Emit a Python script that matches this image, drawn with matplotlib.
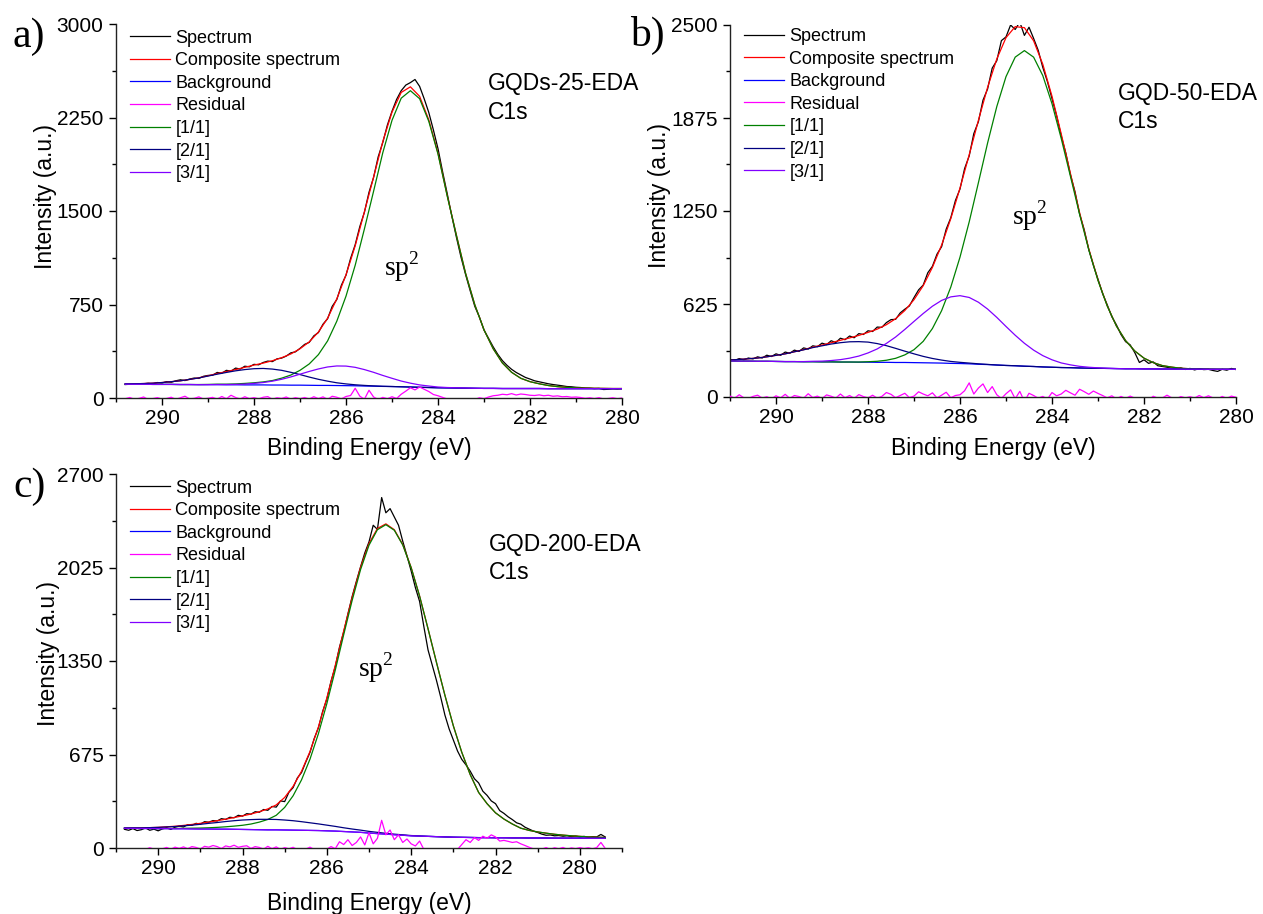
import numpy as np
import matplotlib
matplotlib.use('Agg')
import matplotlib.pyplot as plt
from matplotlib.ticker import MultipleLocator

plt.rcParams['font.family'] = 'Liberation Sans'
plt.rcParams['mathtext.fontset'] = 'custom'
plt.rcParams['mathtext.rm'] = 'Liberation Serif'

# ---------------- a) GQDs-25-EDA ----------------
# fit curves, 0.2 eV step from 290.8 eV down to 280.0 eV
a_fit_start = 290.8
a_comp = [113, 114, 116, 119, 124, 131, 138, 149, 162, 178,
          196, 212, 228, 246, 264, 280, 299, 323, 353, 395,
          450, 529, 640, 795, 988, 1221, 1493, 1772, 2057, 2293,
          2451, 2496, 2420, 2231, 1963, 1624, 1307, 1000, 748, 547,
          395, 281, 206, 158, 131, 114, 100, 91, 85, 81,
          79, 78, 77, 76, 76]
a_bg = [111, 110, 110, 109, 109, 109, 108, 108, 107, 107,
        107, 106, 106, 105, 105, 105, 104, 104, 103, 103,
        102, 101, 101, 100, 99, 98, 96, 95, 93, 92,
        90, 88, 86, 84, 82, 81, 80, 79, 78, 77,
        77, 76, 76, 76, 76, 76, 75, 75, 75, 75,
        75, 75, 75, 75, 75]
a_p1 = [111, 110, 110, 109, 109, 109, 108, 108, 108, 109,
        111, 111, 113, 117, 122, 129, 140, 159, 184, 222,
        273, 348, 458, 616, 817, 1065, 1356, 1659, 1968, 2227,
        2405, 2465, 2401, 2219, 1957, 1621, 1305, 999, 748, 547,
        395, 281, 206, 158, 131, 114, 100, 91, 85, 81,
        79, 78, 77, 76, 76]
a_p2 = [113, 114, 116, 119, 124, 131, 138, 149, 161, 176,
        191, 205, 218, 228, 235, 237, 232, 222, 206, 188,
        168, 150, 135, 122, 113, 106, 101, 97, 94, 92,
        90, 88, 86, 84, 82, 81, 80, 79, 78, 77,
        77, 76, 76, 76, 76, 76, 75, 75, 75, 75,
        75, 75, 75, 75, 75]
a_p3 = [111, 110, 110, 109, 109, 109, 108, 108, 107, 107,
        108, 108, 109, 111, 117, 124, 135, 150, 169, 191,
        213, 233, 249, 257, 256, 246, 228, 206, 181, 158,
        136, 119, 105, 96, 88, 84, 82, 80, 78, 77,
        77, 76, 76, 76, 76, 76, 75, 75, 75, 75,
        75, 75, 75, 75, 75]
# measured spectrum and residual, 0.1 eV step from 290.8 eV
a_spec_start = 290.8
a_spec = [108, 110, 112, 110, 114, 118, 113, 124, 120,
          131, 126, 138, 146, 140, 152, 160, 157, 174, 181,
          183, 205, 199, 222, 215, 240, 232, 255, 250, 270,
          266, 285, 296, 292, 314, 320, 336, 362, 370, 398,
          430, 446, 498, 525, 592, 636, 735, 790, 905, 985,
          1120, 1230, 1375, 1490, 1650, 1770, 1935, 2050, 2190, 2300,
          2395, 2465, 2510, 2530, 2555, 2500, 2400, 2290, 2150, 2000,
          1815, 1640, 1460, 1290, 1130, 990, 860, 735, 650, 545,
          478, 410, 350, 300, 262, 230, 205, 185, 165, 152,
          138, 130, 122, 114, 108, 103, 98, 92, 90, 86,
          84, 80, 79, 75, 77, 68, 70, 74, 72, 75]
a_res = [-6, 4, -10, -3, 8, -12, -5, 3, -9,
         -4, 6, -11, 2, 14, -7, -3, 9, -8, -2,
         5, -9, 12, -6, 22, 4, -8, 10, -5, 3,
         -7, 6, 11, -10, 2, -4, 8, -9, 3, -6,
         4, -8, 10, -5, 9, -11, 14, 6, -7, 12,
         20, 78, 15, -10, 62, 8, -12, 5, -6, 10,
         -4, 30, 55, 82, 65, 88, 70, 52, 28, 18,
         5, -8, -15, -22, -18, -10, -14, -12, 2, -6,
         8, 18, 22, 30, 26, 35, 24, 32, 28, 22,
         20, 25, 18, 22, 14, 17, 10, 12, 6, 8,
         4, -3, 2, -5, 3, -8, -4, 2, -6, 0]

# ---------------- b) GQD-50-EDA ----------------
b_fit_start = 291.0
b_comp = [249, 252, 257, 262, 270, 280, 290, 304, 318, 335,
          349, 365, 381, 397, 414, 434, 456, 486, 526, 581,
          654, 748, 871, 1021, 1199, 1404, 1628, 1859, 2081, 2272,
          2415, 2489, 2482, 2394, 2236, 2021, 1769, 1503, 1239, 995,
          786, 613, 477, 379, 309, 261, 231, 211, 201, 193,
          190, 188, 187, 186, 186, 186]
b_bg = [242, 241, 241, 240, 240, 239, 238, 238, 237, 237,
        236, 236, 235, 235, 234, 234, 233, 233, 232, 232,
        231, 230, 229, 228, 226, 225, 223, 220, 218, 215,
        212, 210, 207, 205, 202, 200, 198, 197, 195, 194,
        193, 192, 191, 190, 190, 189, 189, 188, 188, 187,
        187, 187, 186, 186, 186, 186]
b_p1 = [242, 241, 241, 240, 240, 239, 238, 238, 237, 237,
        236, 236, 235, 235, 235, 237, 240, 247, 260, 283,
        318, 374, 460, 580, 739, 940, 1177, 1440, 1707, 1952,
        2153, 2284, 2328, 2284, 2160, 1971, 1738, 1484, 1228, 989,
        783, 612, 477, 379, 309, 261, 231, 211, 201, 193,
        190, 188, 187, 186, 186, 186]
b_p2 = [249, 252, 257, 262, 270, 280, 290, 304, 317, 332,
        344, 356, 365, 371, 372, 369, 359, 345, 327, 308,
        290, 273, 259, 248, 239, 233, 228, 223, 219, 215,
        212, 210, 207, 205, 202, 200, 198, 197, 195, 194,
        193, 192, 191, 190, 190, 189, 189, 188, 188, 187,
        187, 187, 186, 186, 186, 186]
b_p3 = [242, 241, 241, 240, 240, 239, 238, 238, 238, 240,
        241, 245, 251, 261, 275, 296, 323, 360, 403, 454,
        508, 561, 610, 649, 673, 681, 669, 637, 591, 535,
        474, 415, 361, 315, 278, 250, 229, 216, 206, 200,
        196, 193, 191, 190, 190, 189, 189, 188, 188, 187,
        187, 187, 186, 186, 186, 186]
b_spec_start = 291.0
b_spec = [252, 246, 258, 250, 262, 256, 270, 262, 281, 272,
          290, 280, 302, 294, 315, 306, 330, 322, 344, 338,
          362, 352, 378, 366, 395, 385, 410, 398, 426, 420,
          445, 440, 470, 468, 500, 520, 522, 565, 590, 612,
          668, 720, 752, 835, 878, 960, 1010, 1128, 1205, 1320,
          1398, 1535, 1620, 1770, 1850, 1995, 2070, 2210, 2260, 2395,
          2420, 2500, 2470, 2520, 2430, 2485, 2410, 2330, 2215, 2120,
          2005, 1890, 1755, 1640, 1495, 1380, 1230, 1125, 990, 885,
          792, 695, 620, 540, 485, 420, 372, 350, 298, 232,
          250, 226, 236, 210, 205, 200, 194, 190, 196, 185,
          192, 182, 190, 184, 186, 178, 172, 186, 180, 192,
          184]
b_res = [6, -8, 15, -5, -10, 4, 12, -7, 2, -12,
         8, -6, 18, -9, 10, 3, -8, 22, -4, 6,
         -10, 14, 5, -7, 20, -5, 10, -9, 16, 3,
         -6, 12, -8, 4, 30, 18, -5, 10, 25, -4,
         6, 35, 20, 8, 28, -6, 12, 32, -5, 10,
         15, 42, 95, 20, 60, 88, 30, 70, 15, -10,
         22, 48, -12, 38, -30, 25, 10, -8, 4, -14,
         30, 8, 20, 45, 28, 12, 52, 36, 18, 40,
         24, 10, -6, 8, -12, 4, -10, 6, -8, -40,
         -10, -20, 5, -8, -6, 12, -5, -12, 3, -6,
         2, -7, 10, -5, 8, -6, -14, 4, -9, 6,
         -2]

# ---------------- c) GQD-200-EDA ----------------
c_fit_start = 290.8
c_comp = [144, 145, 145, 147, 149, 153, 157, 163, 170, 178,
          187, 197, 208, 220, 232, 245, 262, 282, 311, 365,
          445, 554, 696, 873, 1083, 1318, 1567, 1808, 2026, 2198,
          2307, 2340, 2298, 2191, 2025, 1819, 1583, 1340, 1103, 882,
          691, 530, 401, 320, 254, 209, 173, 143, 127, 116,
          107, 99, 93, 88, 84, 80, 78, 76]
c_bg = [142, 142, 141, 141, 140, 140, 139, 139, 138, 137,
        137, 136, 136, 135, 134, 133, 132, 131, 131, 130,
        129, 128, 127, 126, 124, 122, 119, 116, 113, 108,
        104, 100, 96, 92, 88, 86, 84, 82, 80, 78,
        77, 76, 75, 75, 74, 74, 73, 73, 72, 72,
        72, 71, 71, 71, 71, 70, 70, 70]
c_p1 = [142, 142, 141, 141, 140, 141, 141, 142, 143, 144,
        146, 149, 153, 158, 164, 173, 187, 206, 236, 293,
        377, 492, 641, 825, 1042, 1284, 1540, 1787, 2010, 2186,
        2298, 2334, 2294, 2188, 2023, 1818, 1583, 1340, 1103, 882,
        691, 530, 401, 320, 254, 209, 173, 143, 127, 116,
        107, 99, 93, 88, 84, 80, 78, 76]
c_p2 = [144, 145, 145, 147, 149, 152, 155, 160, 165, 171,
        178, 184, 191, 197, 202, 205, 207, 207, 206, 202,
        197, 190, 182, 174, 165, 156, 146, 137, 129, 120,
        113, 106, 100, 95, 90, 87, 84, 82, 80, 78,
        77, 76, 75, 75, 74, 74, 73, 73, 72, 72,
        72, 71, 71, 71, 71, 70, 70, 70]
c_p3 = c_bg  # [3/1] lies on the background in this fit
c_spec_start = 290.8
c_spec = [135, 128, 140, 126, 132, 145, 128, 136, 124,
          138, 146, 134, 150, 158, 152, 168, 164, 178, 172,
          190, 186, 198, 195, 212, 206, 222, 218, 236, 230,
          248, 244, 262, 258, 278, 272, 300, 295, 340, 335,
          402, 436, 505, 545, 620, 690, 790, 868, 985, 1075,
          1205, 1310, 1450, 1560, 1690, 1815, 1925, 2030, 2130, 2210,
          2330, 2300, 2530, 2420, 2450, 2390, 2330, 2215, 2110, 2000,
          1880, 1780, 1600, 1430, 1320, 1210, 1090, 960, 860, 780,
          700, 640, 600, 555, 500, 470, 410, 380, 340, 320,
          270, 250, 225, 205, 182, 172, 150, 136, 122, 112,
          100, 92, 94, 88, 90, 85, 88, 82, 86, 80,
          84, 78, 82, 80, 98, 80]
c_res = [-9, -14, -6, -12, -5, -10, 2, -8, -4,
         -6, 4, -9, 6, -3, 8, -5, 10, 4, -7,
         12, 6, 18, 10, -4, 15, 8, 20, 5, 12,
         16, -3, 10, 4, -8, 12, -5, 8, -10, 3,
         -6, 5, -12, -4, -8, 6, -10, -5, -14, -8,
         10, -5, 45, 25, 60, 18, 40, 80, 22, 110,
         30, 70, 200, 95, 130, 60, 95, 40, 65, 30,
         15, 50, -10, -25, -40, -20, -30, -45, -20, -8,
         -10, 25, 60, 40, 75, 55, 85, 70, 95, 80,
         50, 55, 48, 40, 45, 30, 18, 5, -6, -4,
         -8, 3, -10, 2, -6, 4, -9, 1, -5, 3,
         -4, 2, -6, 3, 40, -2]

labels = ['Spectrum', 'Composite spectrum', 'Background', 'Residual',
          '[1/1]', '[2/1]', '[3/1]']
colors = ['black', '#FF0000', '#0000FF', '#FF00FF', '#008000', '#000080', '#8000FF']


def energies(start, step, n):
    return start - step * np.arange(n)


def panel(ax, fit_start, comp, bg, p1, p2, p3, spec_start, spec, res,
          xlim, ymax, ystep, name, sp_xy, name_xy, leg_anchor, xlab_xy, ylab_xy):
    ef = energies(fit_start, 0.2, len(comp))
    es = energies(spec_start, 0.1, len(spec))
    curves = [(es, spec), (ef, comp), (ef, bg), (es, res), (ef, p1), (ef, p2), (ef, p3)]
    for (ex, ey), lab, col in zip(curves, labels, colors):
        z = 3 if lab == 'Residual' else 2
        ax.plot(ex, ey, color=col, lw=0.9, label=lab, zorder=z)
    ax.set_xlim(*xlim)
    ax.set_ylim(0, ymax)
    ax.xaxis.set_major_locator(MultipleLocator(2))
    ax.xaxis.set_minor_locator(MultipleLocator(1))
    ax.yaxis.set_major_locator(MultipleLocator(ystep))
    ax.yaxis.set_minor_locator(MultipleLocator(ystep / 2))
    for s in ['top', 'right']:
        ax.spines[s].set_visible(False)
    for s in ['left', 'bottom']:
        ax.spines[s].set_linewidth(1.0)
        ax.spines[s].set_color('#222222')
    ax.tick_params(which='major', direction='out', length=5, width=1.0, labelsize=15)
    ax.tick_params(which='minor', direction='out', length=3, width=1.0)
    ax.tick_params(axis='x', pad=3)
    ax.tick_params(axis='y', pad=4)
    ax.set_xlabel('Binding Energy (eV)', fontsize=16.5)
    ax.set_ylabel('Intensity (a.u.)', fontsize=16.5)
    ax.xaxis.set_label_coords(*xlab_xy)
    ax.yaxis.set_label_coords(*ylab_xy)
    ax.legend(loc='upper left', bbox_to_anchor=leg_anchor, frameon=False, fontsize=13,
              handlelength=2.2, handletextpad=0.3, labelspacing=0.31,
              borderpad=0, borderaxespad=0)
    ax.text(name_xy[0], name_xy[1], name, transform=ax.transAxes, fontsize=16.5, va='baseline')
    ax.text(name_xy[0], name_xy[2], 'C1s', transform=ax.transAxes, fontsize=16.5, va='baseline')
    ax.text(sp_xy[0], sp_xy[1], r'sp$^{\mathrm{2}}$', family='Liberation Serif',
            fontsize=20, va='baseline')


W, H = 1263, 914
fig = plt.figure(figsize=(W / 100, H / 100), dpi=100)
ax_a = fig.add_axes([116 / W, 1 - 398 / H, 506 / W, 374 / H])
ax_b = fig.add_axes([730 / W, 1 - 397 / H, 506 / W, 372 / H])
ax_c = fig.add_axes([116 / W, 1 - 848 / H, 506 / W, 374 / H])

panel(ax_a, a_fit_start, a_comp, a_bg, a_p1, a_p2, a_p3, a_spec_start, a_spec, a_res,
      (291, 280), 3000, 750, 'GQDs-25-EDA', (285.17, 985), (0.735, 0.8235, 0.746),
      (0.028, 0.985), (0.5, -0.104), (-0.117, 0.54))
panel(ax_b, b_fit_start, b_comp, b_bg, b_p1, b_p2, b_p3, b_spec_start, b_spec, b_res,
      (291, 280), 2500, 625, 'GQD-50-EDA', (284.88, 1160), (0.767, 0.798, 0.723),
      (0.028, 0.992), (0.52, -0.107), (-0.117, 0.543))
panel(ax_c, c_fit_start, c_comp, c_bg, c_p1, c_p2, c_p3, c_spec_start, c_spec, c_res,
      (291, 279), 2700, 675, 'GQD-200-EDA', (285.25, 1240), (0.736, 0.794, 0.719),
      (0.028, 0.985), (0.5, -0.118), (-0.111, 0.52))

for lab, px, py in [('a)', 13, 47), ('b)', 630, 46), ('c)', 13, 497)]:
    fig.text(px / W, 1 - py / H, lab, family='Liberation Serif', fontsize=30, va='baseline')

fig.savefig('out.png', dpi=100)
